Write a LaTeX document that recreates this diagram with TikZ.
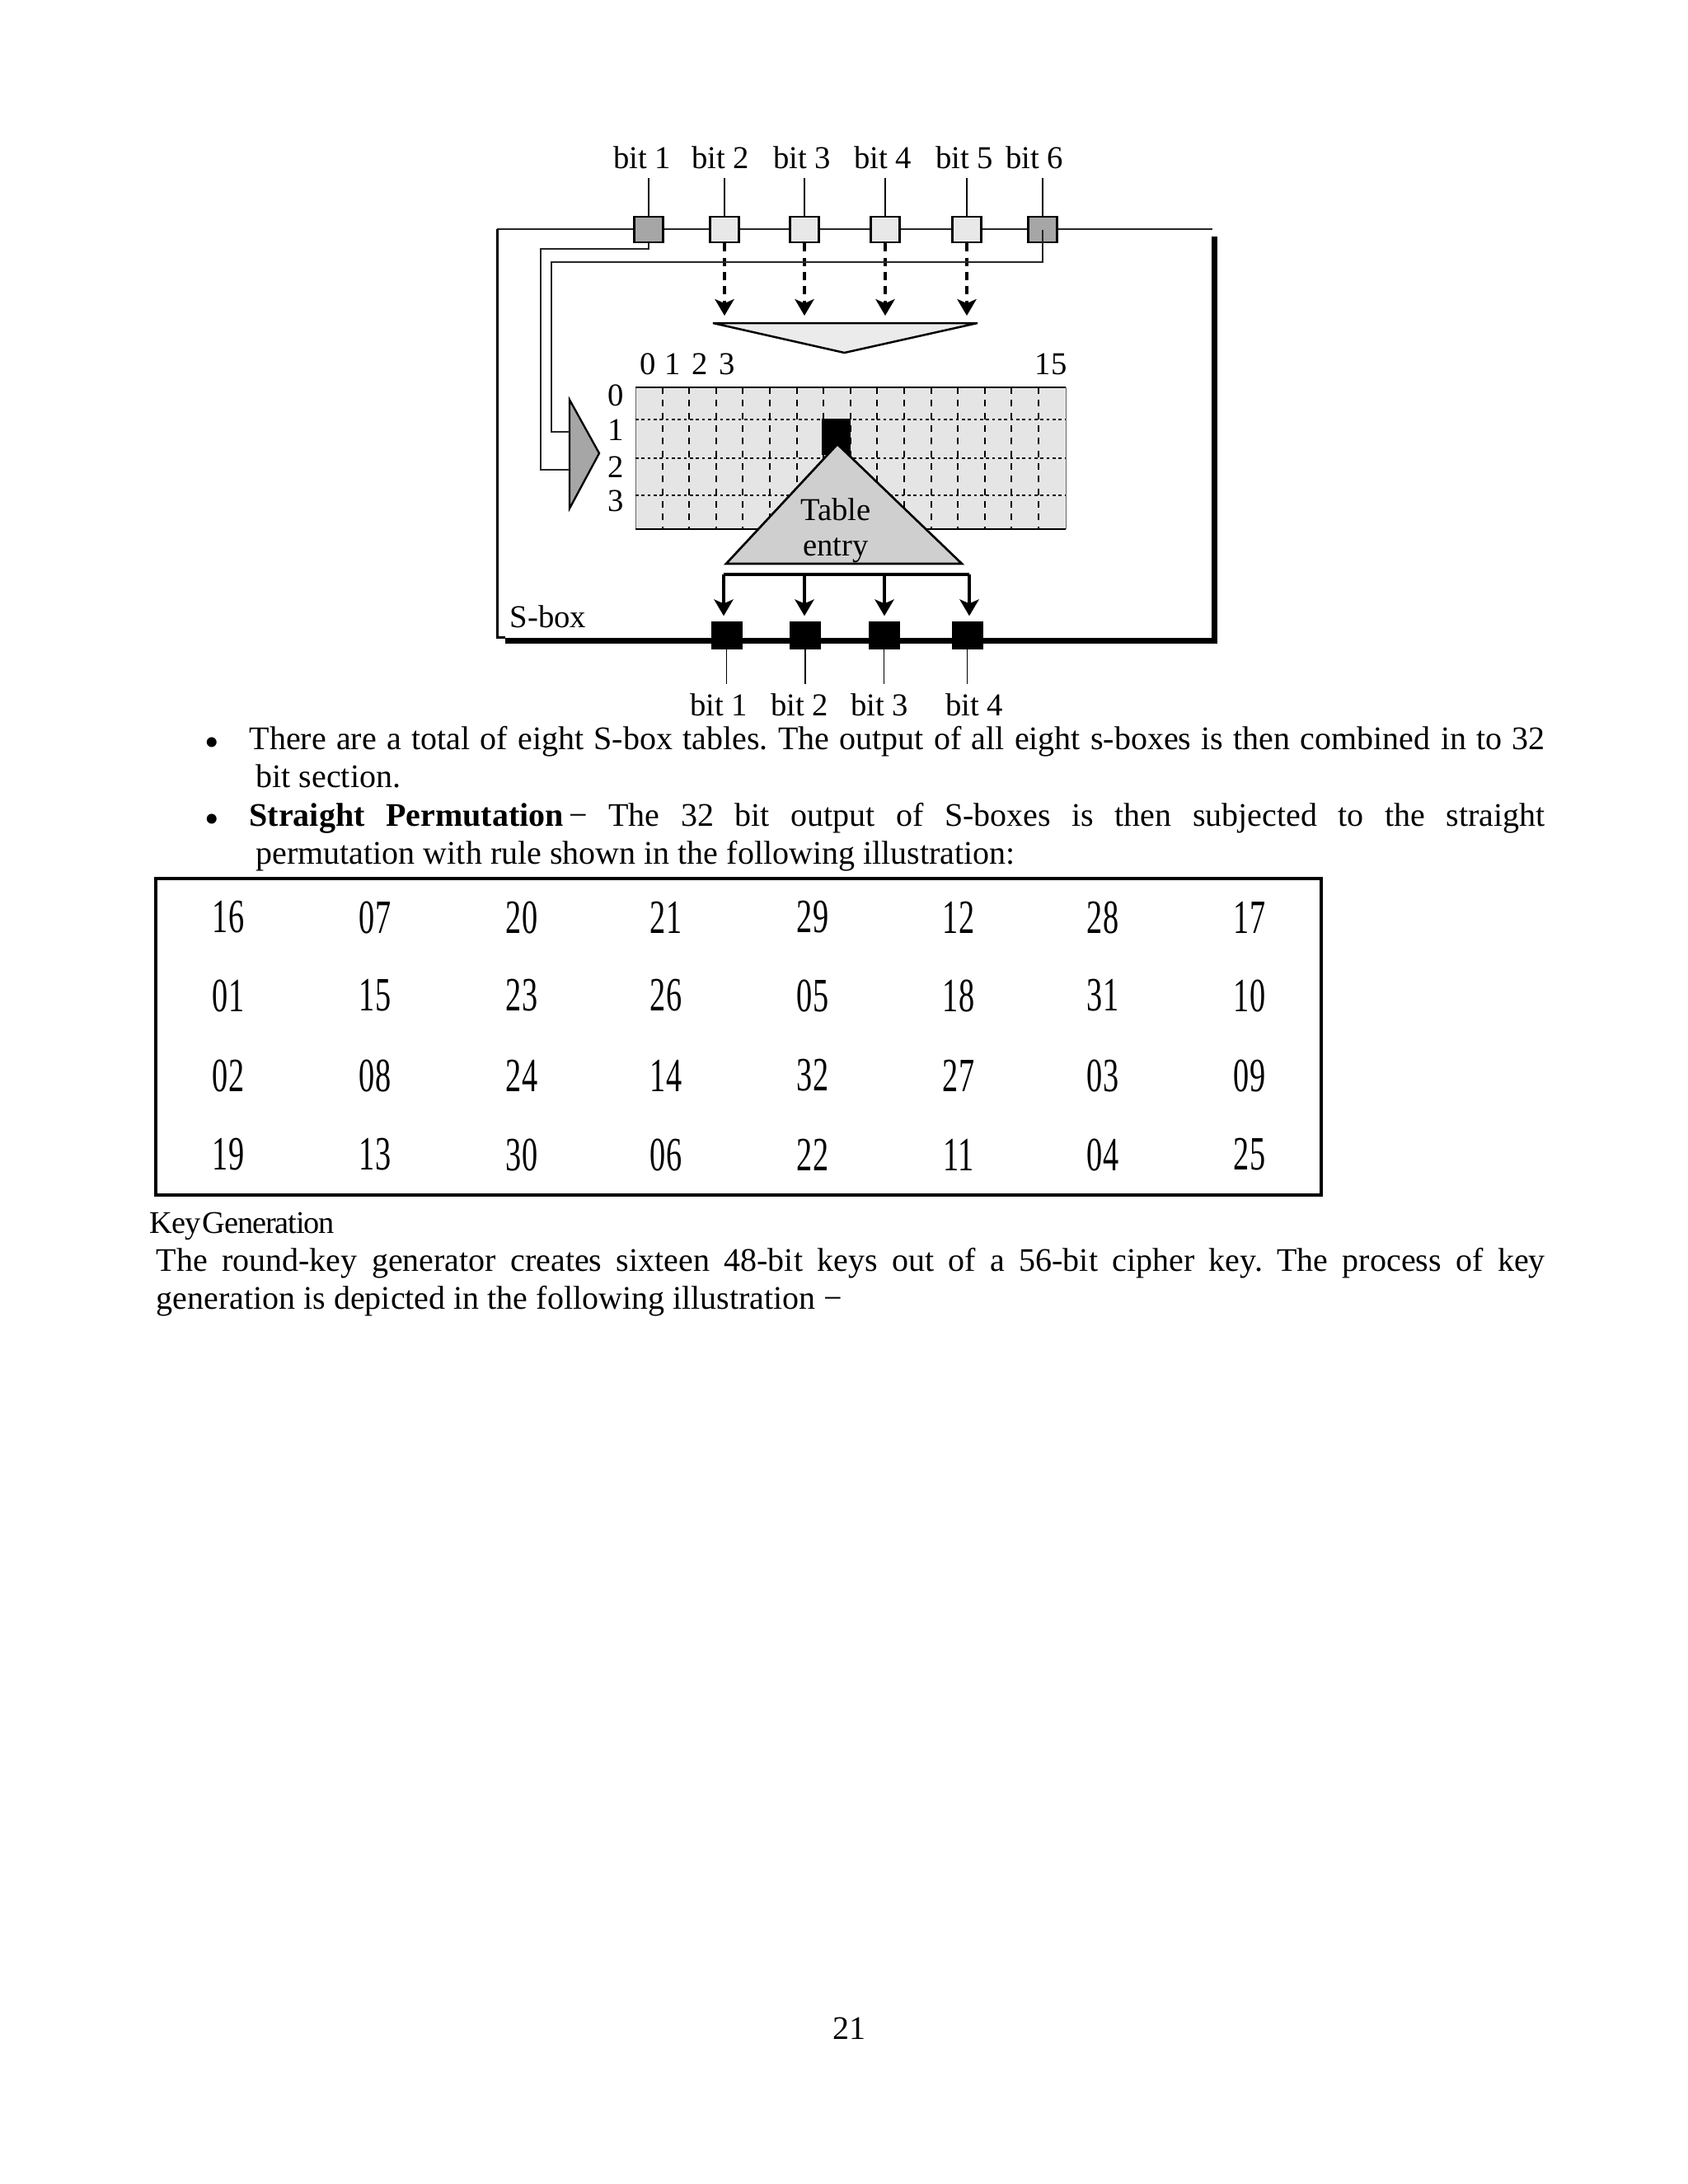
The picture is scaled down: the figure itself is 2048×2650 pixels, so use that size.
\documentclass[tikz,border=0pt]{standalone}
\usepackage{fontspec}
\setmainfont{Liberation Serif}
\newfontfamily\narrowfont[FakeStretch=0.66]{Liberation Serif}
\newfontfamily\tightfont[LetterSpace=-3,WordSpace=0.3]{Liberation Serif}
\usepackage{tikz}
\usetikzlibrary{arrows.meta,positioning,calc}
\newcommand{\justline}[2]{\makebox[#1][s]{\frenchspacing #2}}

\begin{document}
\begin{tikzpicture}[x=0.3pt, y=-0.3pt,
  bitlab/.style={font=\fontsize{11.6}{13}\selectfont, inner sep=3.3pt, anchor=base},
  numlab/.style={font=\fontsize{11.6}{13}\selectfont, inner sep=0pt},
  pin/.style={draw, line width=.7pt, minimum width=10.5pt, minimum height=9.3pt, inner sep=0pt},
  outpin/.style={draw, fill=black, minimum width=11pt, minimum height=9.6pt, inner sep=0pt},
  wire/.style={line width=.55pt},
  muxwire/.style={line width=.8pt, draw=black!85},
  arr/.style={-{Stealth[length=6pt,width=7pt,inset=1.5pt]}, line width=.95pt},
  bodyline/.style={font=\fontsize{12}{14}\selectfont, inner sep=0pt, anchor=base west},
  bulletmark/.style={font=\fontsize{15}{15}\selectfont, inner sep=0pt, anchor=base west},
  cell/.style={font=\narrowfont\fontsize{17.4}{18}\selectfont, inner sep=0pt}]
\useasboundingbox (0,0) rectangle (2048,2650);

% s-box frame
\coordinate (tl) at (603,278);
\coordinate (tr) at (1471,278);
\coordinate (bl) at (603,773);
\coordinate (br) at (1471,773);
\draw[line width=.7pt, draw=black!85] (tl) -- (tr);
\draw[line width=.9pt] (tl) -- (bl) -- (613,773);
\draw[line width=2.1pt] (1473,287) -- (1473,777) -- (613,777);
\node[font=\fontsize{11.6}{13}\selectfont, inner sep=0pt] (sboxlab) at (665,748) {S-box};

% input pins
\node[pin, fill=black!35] (in1) at (787,278.5) {};
\node[pin, fill=black!9] (in2) at (879,278.5) {};
\node[pin, fill=black!9] (in3) at (976,278.5) {};
\node[pin, fill=black!9] (in4) at (1074,278.5) {};
\node[pin, fill=black!9] (in5) at (1173,278.5) {};
\node[pin, fill=black!35] (in6) at (1265,278.5) {};
\node[bitlab] (inlab1) at (779,204) {bit 1};
\node[bitlab] (inlab2) at (874,204) {bit 2};
\node[bitlab] (inlab3) at (973,204) {bit 3};
\node[bitlab] (inlab4) at (1071,204) {bit 4};
\node[bitlab] (inlab5) at (1170,204) {bit 5};
\node[bitlab] (inlab6) at (1255,204) {bit 6};
\foreach \i in {1,...,6}
  \draw[wire] (inlab\i.south -| in\i) -- (in\i.north);

% s-box table
\fill[black!10] (771,470) rectangle (1293,642);
\draw[line width=.25pt, draw=black!60] (771,470) -- (771,642) (1293,470) -- (1293,642);
\foreach \i in {1,...,15}
  \draw[line width=.65pt, dash pattern=on 2.4pt off 2.2pt] ({771+32.6*\i},470) -- ({771+32.6*\i},642);
\foreach \yy in {509,556,601}
  \draw[line width=.8pt, dash pattern=on 1.1pt off 1.1pt] (771,\yy) -- (1293,\yy);
\draw[line width=.8pt] (771,470) -- (1293,470);
\draw[line width=.8pt] (771,642) -- (1293,642);
\node[numlab] (col0) at (786,442) {0};
\node[numlab] (col1) at (816,442) {1};
\node[numlab] (col2) at (849,442) {2};
\node[numlab] (col3) at (882,442) {3};
\node[numlab] (col15) at (1275,442) {15};
\node[numlab] (row0) at (747,480) {0};
\node[numlab] (row1) at (747,522) {1};
\node[numlab] (row2) at (747,567) {2};
\node[numlab] (row3) at (747,608) {3};
\fill (997,508) rectangle (1032,552);

% column decoder
\coordinate (dectop) at (1024,383);
\draw[fill=black!8, line width=.75pt, line join=bevel] (865,392) -- (1186,392) -- (1024.5,428) -- cycle;
\foreach \i in {2,...,5}
  \draw[arr, dash pattern=on 3pt off 2.2pt] (in\i.south) -- (in\i.south |- dectop);

% row selector
\coordinate (muxa) at (691,524);
\coordinate (muxb) at (691,570);
\draw[fill=black!35, line width=.7pt] (691,485) -- (727,550) -- (691,617) -- cycle;
\draw[muxwire] (in1.south) |- (656,302) |- (muxb);
\draw[muxwire] (in6.center) |- (669,318) |- (muxa);

% table entry
\draw[fill=black!19, line width=.8pt] (1016,539) -- (1167,684) -- (881,684) -- cycle;
\node[numlab] (tablab) at (1014,618) {Table};
\node[numlab] (entrylab) at (1014,668) {entry};

% output pins
\node[outpin] (out1) at (881.5,771) {};
\node[outpin] (out2) at (977,771) {};
\node[outpin] (out3) at (1072.5,771) {};
\node[outpin] (out4) at (1173.5,771) {};
\coordinate (busa) at (878,697);
\coordinate (busb) at (976,697);
\coordinate (busc) at (1073,697);
\coordinate (busd) at (1176,697);
\draw[line width=1pt] (busa) -- (busd);
\foreach \i/\b in {1/busa,2/busb,3/busc,4/busd}
  \draw[arr, shorten >=2.1pt] (\b) -- (\b |- out\i.north);
\node[bitlab] (outlab1) at (872,868) {bit 1};
\node[bitlab] (outlab2) at (970,868) {bit 2};
\node[bitlab] (outlab3) at (1067,868) {bit 3};
\node[bitlab] (outlab4) at (1182,868) {bit 4};
\foreach \i in {1,...,4}
  \draw[wire] (out\i.south) -- (out\i.south |- outlab\i.north);

% page text
\node[bulletmark] (bula) at (248,917) {•};
\node[bodyline] (linea) at (302,909) {\justline{471.6pt}{There are a total of eight S-box tables. The output of all eight s-boxes is then combined in to 32}};
\node[bodyline] (lineb) at (310,955) {bit section.};
\node[bulletmark] (bulb) at (248,1010) {•};
\node[bodyline] (linec) at (302,1002) {\justline{471.6pt}{\textbf{Straight Permutation}\,− The 32 bit output of S-boxes is then subjected to the straight}};
\node[bodyline] (lined) at (310,1048) {permutation with rule shown in the following illustration:};

% permutation table
\node[draw, line width=1.2pt, minimum width=424.2pt, minimum height=115.2pt, inner sep=0pt] (permbox) at (896,1258) {};
\foreach \row [count=\r] in {{16,07,20,21,29,12,28,17},{01,15,23,26,05,18,31,10},{02,08,24,14,32,27,03,09},{19,13,30,06,22,11,04,25}}
  \foreach \val [count=\c] in \row {
    \pgfmathsetmacro{\xx}{{277,455,633,808,986,1163,1338,1516}[\c-1]}
    \pgfmathsetmacro{\yy}{{1113,1208,1305,1401}[\r-1]}
    \node[cell] (perm\r-\c) at (\xx,\yy) {\val};
  }

\node[bodyline, font=\tightfont\fontsize{11.5}{13}\selectfont] (keygen) at (181,1496) {Key Generation};
\node[bodyline] (linee) at (189,1542) {\justline{505.5pt}{The round-key generator creates sixteen 48-bit keys out of a 56-bit cipher key. The process of key}};
\node[bodyline] (linef) at (189,1588) {generation is depicted in the following illustration −};
\node[bodyline, anchor=base] (pageno) at (1030,2474) {21};
\end{tikzpicture}
\end{document}
